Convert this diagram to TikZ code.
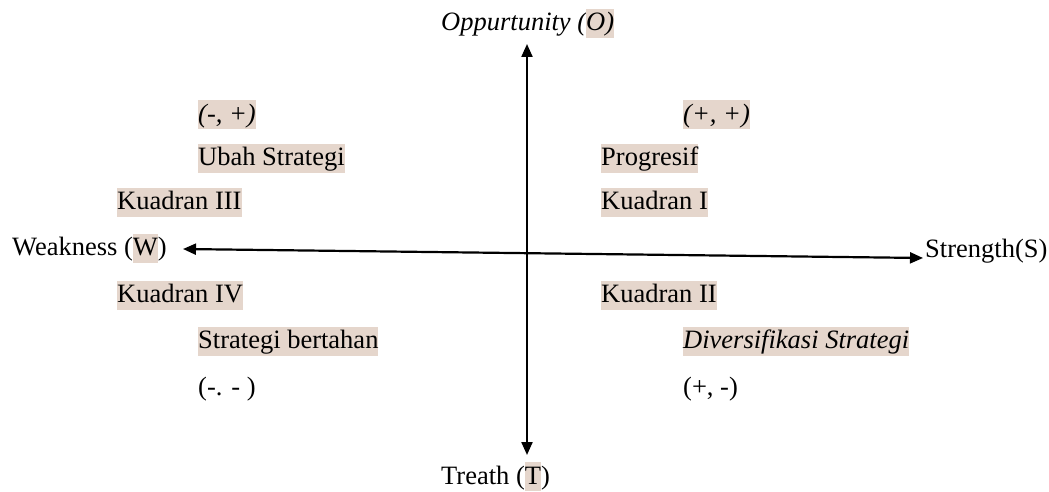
\documentclass[tikz,border=0pt]{standalone}
\usepackage{fontspec}
\setmainfont{Liberation Serif}
\usetikzlibrary{arrows.meta}
\definecolor{hl}{RGB}{229,214,204}
\newcommand\hlb[1]{{\setlength\fboxsep{0pt}\colorbox{hl}{\rule[-7pt]{0pt}{29pt}#1}}}
\tikzset{
  lbl/.style={inner sep=0pt, anchor=base west, font=\fontsize{26.5}{30}\selectfont},
  axis/.style={line width=2.2pt, {Triangle[length=13pt,width=11pt]}-{Triangle[length=13pt,width=11pt]}}
}
\begin{document}
\begin{tikzpicture}[x=1pt,y=-1pt]
\useasboundingbox (0,0) rectangle (1049,492);
% axes ends
\coordinate (otip) at (527,44);
\coordinate (ttip) at (527,455);
\coordinate (wtip) at (183,249);
\coordinate (stip) at (923,258);
\draw[axis] (otip) -- (ttip);
\draw[axis] (wtip) -- (stip);
% axis labels
\node[lbl] (O) at (441,31) {\itshape Oppurtunity (\hlb{O)}};
\node[lbl] (T) at (441,484) {Treath (\hlb{T})};
\node[lbl] (W) at (12,255.5) {Weakness (\hlb{W})};
\node[lbl] (S) at (925,257) {Strength(S)};
% left quadrants
\node[lbl] (q3s) at (198,122.5) {\hlb{\itshape (-, +)}};
\node[lbl] (q3a) at (198,165.5) {\hlb{Ubah Strategi}};
\node[lbl] (q3) at (117,209.5) {\hlb{Kuadran III}};
\node[lbl] (q4) at (117,302.5) {\hlb{Kuadran IV}};
\node[lbl] (q4a) at (198,348.5) {\hlb{Strategi bertahan}};
\node[lbl] (q4s) at (198,395.5) {(-. - )};
% right quadrants
\node[lbl] (q1s) at (683,122.5) {\hlb{\itshape (+, +)}};
\node[lbl] (q1a) at (601,165.5) {\hlb{Progresif}};
\node[lbl] (q1) at (601,209.5) {\hlb{Kuadran I}};
\node[lbl] (q2) at (601,302.5) {\hlb{Kuadran II}};
\node[lbl] (q2a) at (683,348.5) {\hlb{\itshape Diversifikasi Strategi}};
\node[lbl] (q2s) at (683,395.5) {(+, -)};
\end{tikzpicture}
\end{document}
